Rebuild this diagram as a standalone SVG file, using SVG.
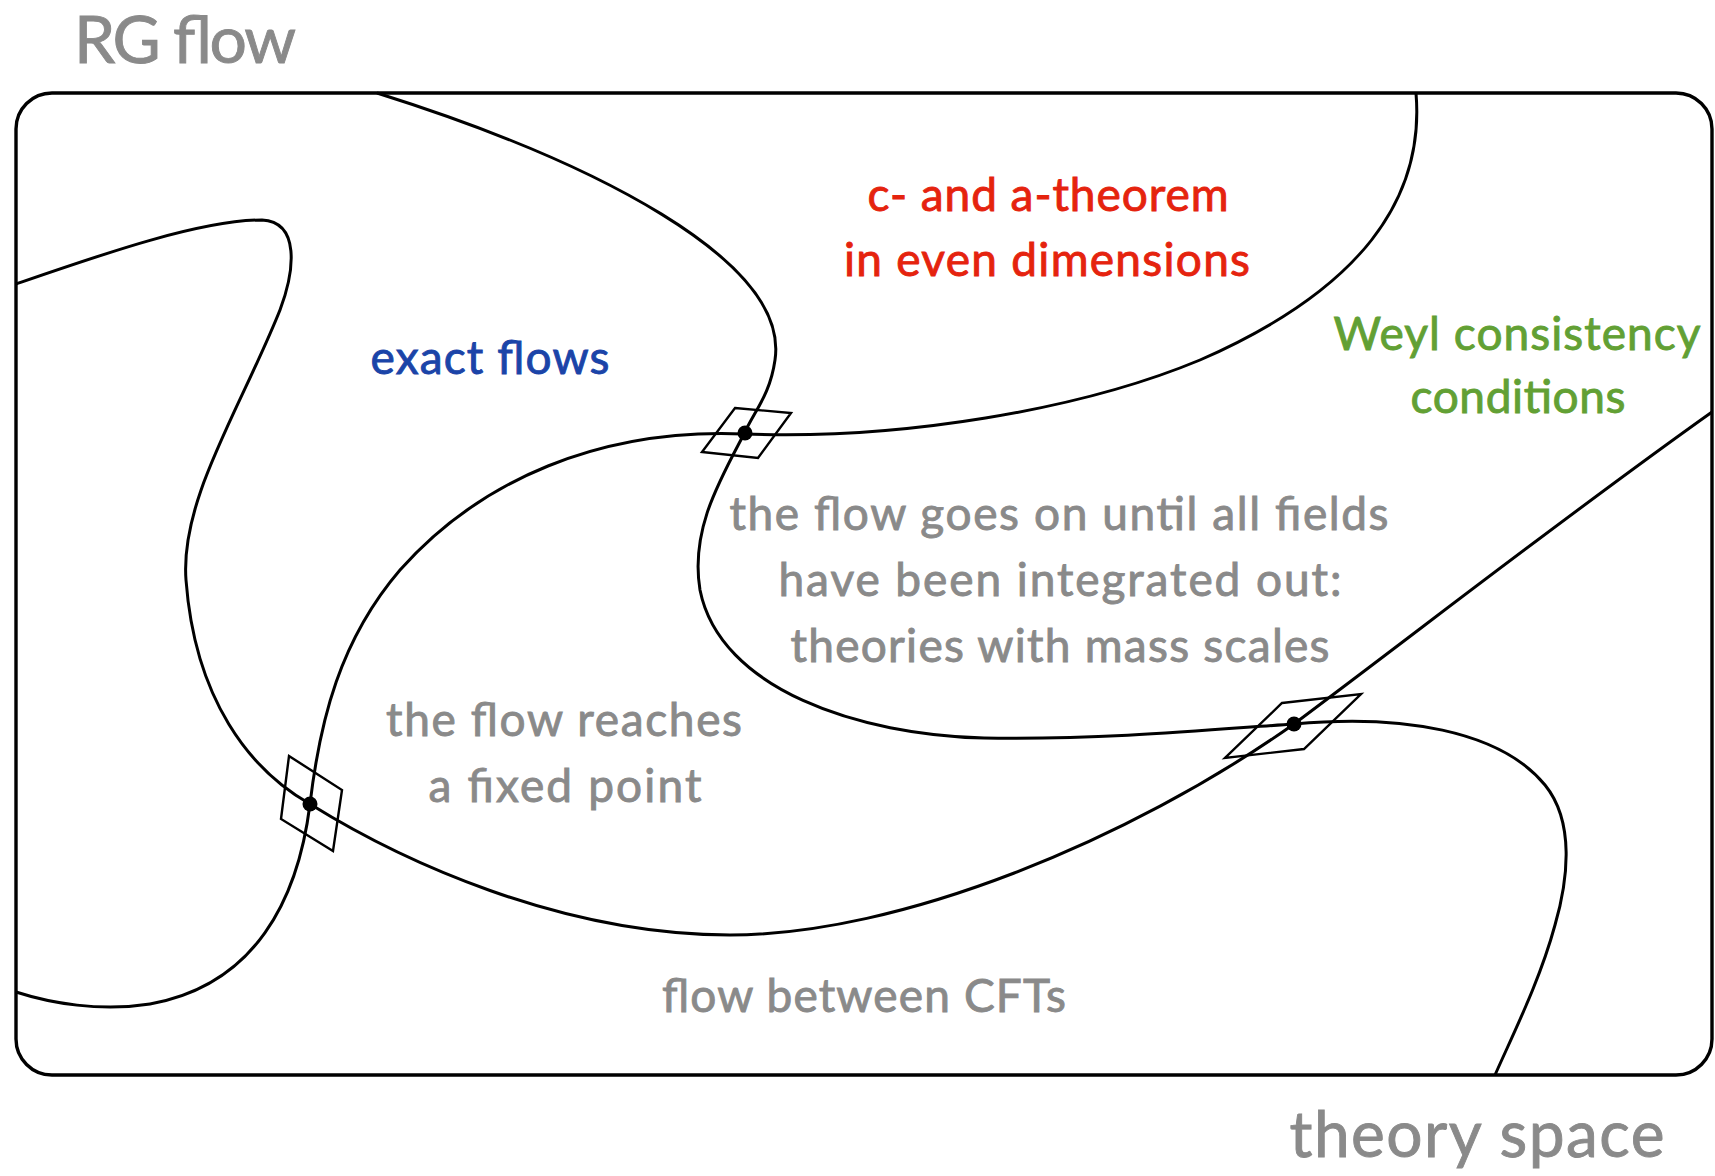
<svg xmlns="http://www.w3.org/2000/svg" width="1715" height="1176" viewBox="0 0 1715 1176">
<style>
.ln{fill:none;stroke:#000;stroke-width:3}
.fr{fill:#fff;stroke:#000;stroke-width:3.4}
.pg{fill:none;stroke:#000;stroke-width:2.4}
text{font-family:Lato,"Open Sans","DejaVu Sans",sans-serif;text-anchor:middle;stroke-width:0.9}
.g{fill:#8a8a8a;stroke:#8a8a8a}
.r{fill:#e5230e;stroke:#e5230e}
.b{fill:#1b44a8;stroke:#1b44a8}
.gr{fill:#62a034;stroke:#62a034}
</style>
<rect width="1715" height="1176" fill="#fff"/>
<text class="g" x="185" y="63" font-size="66" textLength="222">RG flow</text>
<rect id="theory-space" class="fr" x="16" y="93" width="1696" height="982" rx="36"/>
<g id="connectors">
<path id="curveA" class="ln" d="M377,93 C590,160 790,260 775,360 C770,395 755,410 744,434 C720,480 690,530 700,590 C720,690 860,735 984,738 C1110,740 1230,728 1294,724 C1400,714 1500,730 1545,785 C1575,822 1568,880 1555,925 C1540,980 1515,1030 1495,1075"/>
<path id="curveB" class="ln" d="M1416,93 C1425,200 1360,290 1200,360 C1080,410 900,440 744,434 C600,428 480,480 400,570 C340,640 320,720 310,804 C298,900 255,985 150,1004 C100,1012 50,1003 16,992"/>
<path id="curveC" class="ln" d="M16,284 C100,255 200,220 262,220 C300,222 295,270 280,310 C240,410 180,500 186,580 C195,700 250,770 310,804 C400,860 560,935 730,935 C900,935 1130,840 1294,724 C1420,630 1560,520 1712,412"/>
</g>
<g id="fixed-point-1">
<polygon class="pg" points="735,408 791,413 758,458 702,452"/>
<circle cx="745" cy="433" r="7.5"/>
</g>
<g id="fixed-point-2">
<polygon class="pg" points="289,756 342,790 333,851 281,819"/>
<circle cx="310" cy="804" r="7.5"/>
</g>
<g id="fixed-point-3">
<polygon class="pg" points="1282,703 1361,694 1304,749 1225,758"/>
<circle cx="1294" cy="724" r="7.5"/>
</g>
<g id="labels" font-size="46">
<text class="r" x="1048" y="211" textLength="361">c- and a-theorem</text>
<text class="r" x="1047" y="276" textLength="406">in even dimensions</text>
<text class="b" x="490" y="374" textLength="239">exact flows</text>
<text class="gr" x="1517" y="350" textLength="367">Weyl consistency</text>
<text class="gr" x="1518" y="413" textLength="215">conditions</text>
<text class="g" x="1059" y="530" textLength="659">the flow goes on until all fields</text>
<text class="g" x="1060" y="596" textLength="563">have been integrated out:</text>
<text class="g" x="1060" y="662" textLength="539">theories with mass scales</text>
<text class="g" x="564" y="736" textLength="356">the flow reaches</text>
<text class="g" x="565" y="802" textLength="273">a fixed point</text>
<text class="g" x="864" y="1012" textLength="404">flow between CFTs</text>
<text class="g" x="1477" y="1157" font-size="64" textLength="375">theory space</text>
</g>
</svg>
